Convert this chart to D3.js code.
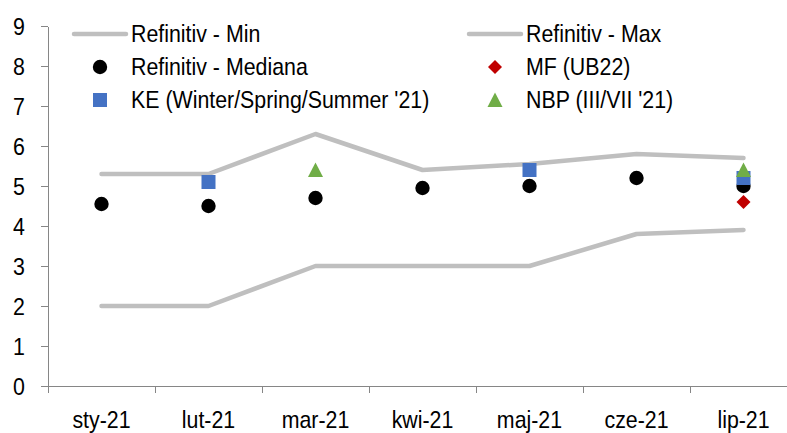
<!DOCTYPE html>
<meta charset="utf-8">
<head>
  <title>Inflacja - prognozy</title>
  <style>
    body { margin: 0; background: #fff; overflow: hidden; }
    text { font-family: "Liberation Sans", Arial, sans-serif; fill: #000; font-size: 24px; }
    .axis path, .axis line { stroke: #868686; stroke-width: 1px; shape-rendering: crispEdges; }
  </style>
</head>
<body>
  <div id="chart"></div>
</body>

<script src="https://cdnjs.cloudflare.com/ajax/libs/d3/7.8.5/d3.min.js"></script>

<script>
  // months on the x axis
  var months = ["sty-21", "lut-21", "mar-21", "kwi-21", "maj-21", "cze-21", "lip-21"];

  // Refinitiv consensus
  var refMin = [2.0, 2.0, 3.0, 3.0, 3.0, 3.8, 3.9];
  var refMax = [5.3, 5.3, 6.3, 5.4, 5.55, 5.8, 5.7];
  var refMedian = [4.55, 4.5, 4.7, 4.95, 5.0, 5.2, 5.0];

  // other forecasts (only some months)
  var kePoints = [["lut-21", 5.1], ["maj-21", 5.4], ["lip-21", 5.2]];
  var mfPoints = [["lip-21", 4.6]];
  var nbpPoints = [["mar-21", 5.4], ["lip-21", 5.4]];

  var yTicks = [0, 1, 2, 3, 4, 5, 6, 7, 8, 9];

  var width = 787, height = 433;
  var plotLeft = 48, plotTop = 26, plotBottom = 386;
  var catW = 107;
  var squeeze = 0.89;   // the reference font is a narrow one

  var svg = d3.select("#chart").append("svg")
    .attr("width", width)
    .attr("height", height);

  var x = d3.scaleBand().domain(months).range([plotLeft, plotLeft + catW * months.length]);
  var y = d3.scaleLinear().domain([0, 9]).range([plotBottom, plotTop]);
  var cx = function (m) { return x(m) + x.bandwidth() / 2; };

  // narrow text helper
  function label(g, tx, ty, str, anchor) {
    return g.append("text")
      .attr("transform", "translate(" + tx + "," + ty + ") scale(" + squeeze + ",1)")
      .attr("text-anchor", anchor || "start")
      .attr("dy", "0.35em")
      .text(str);
  }

  // y axis
  var yAxis = svg.append("g").attr("class", "axis")
    .attr("transform", "translate(" + plotLeft + ",0)")
    .call(d3.axisLeft(y).tickValues(yTicks).tickSize(7).tickSizeOuter(0).tickFormat(""));
  yAxis.selectAll(".tick").each(function (d) {
    label(d3.select(this), -23, 0, d, "end");
  });

  // x axis
  var xAxis = svg.append("g").attr("class", "axis")
    .attr("transform", "translate(0," + plotBottom + ")")
    .call(d3.axisBottom(x).tickSize(0).tickSizeOuter(0).tickFormat(""));
  xAxis.selectAll(".tick").each(function (d) {
    label(d3.select(this), 0, 34, d, "middle");
  });
  // category separators
  xAxis.selectAll(".sep")
    .data(d3.range(months.length + 1))
    .enter().append("line")
    .attr("x1", function (i) { return plotLeft + i * catW; })
    .attr("x2", function (i) { return plotLeft + i * catW; })
    .attr("y1", 0).attr("y2", 7);

  // min / max lines
  var line = d3.line()
    .x(function (d, i) { return cx(months[i]); })
    .y(function (d) { return y(d); });

  [refMin, refMax].forEach(function (s) {
    svg.append("path")
      .datum(s)
      .attr("d", line)
      .attr("fill", "none")
      .attr("stroke", "#BFBFBF")
      .attr("stroke-width", 4.5)
      .attr("stroke-linecap", "round")
      .attr("stroke-linejoin", "round");
  });

  // marker shapes, about 14px across
  var shapes = {
    circle: function (g) { return g.append("circle").attr("r", 7.2).attr("fill", "#000"); },
    square: function (g) { return g.append("rect").attr("x", -7).attr("y", -7).attr("width", 14).attr("height", 14).attr("fill", "#4472C4"); },
    diamond: function (g) { return g.append("path").attr("d", "M0,-7L7,0L0,7L-7,0Z").attr("fill", "#C00000"); },
    triangle: function (g) { return g.append("path").attr("d", "M0,-7.5L7.5,7L-7.5,7Z").attr("fill", "#70AD47"); }
  };

  function drawPoints(points, shape) {
    points.forEach(function (p) {
      var g = svg.append("g").attr("transform", "translate(" + cx(p[0]) + "," + y(p[1]) + ")");
      shapes[shape](g);
    });
  }

  drawPoints(months.map(function (m, i) { return [m, refMedian[i]]; }), "circle");
  drawPoints(mfPoints, "diamond");
  drawPoints(kePoints, "square");
  drawPoints(nbpPoints, "triangle");

  // legend
  var legend = [
    { label: "Refinitiv - Min", kind: "line", col: 0, row: 0 },
    { label: "Refinitiv - Max", kind: "line", col: 1, row: 0 },
    { label: "Refinitiv - Mediana", kind: "circle", col: 0, row: 1 },
    { label: "MF (UB22)", kind: "diamond", col: 1, row: 1 },
    { label: "KE (Winter/Spring/Summer '21)", kind: "square", col: 0, row: 2 },
    { label: "NBP (III/VII '21)", kind: "triangle", col: 1, row: 2 }
  ];
  var colX = [72, 467], rowY = [34, 67, 100];

  legend.forEach(function (d) {
    var g = svg.append("g").attr("transform", "translate(" + colX[d.col] + "," + rowY[d.row] + ")");
    if (d.kind === "line") {
      g.append("line").attr("x1", 2).attr("x2", 54).attr("y1", 0).attr("y2", 0)
        .attr("stroke", "#BFBFBF").attr("stroke-width", 4.5).attr("stroke-linecap", "round");
    } else {
      var m = g.append("g").attr("transform", "translate(28,0)");
      shapes[d.kind](m);
    }
    label(g, 59, 0, d.label);
  });
</script>
</html>
